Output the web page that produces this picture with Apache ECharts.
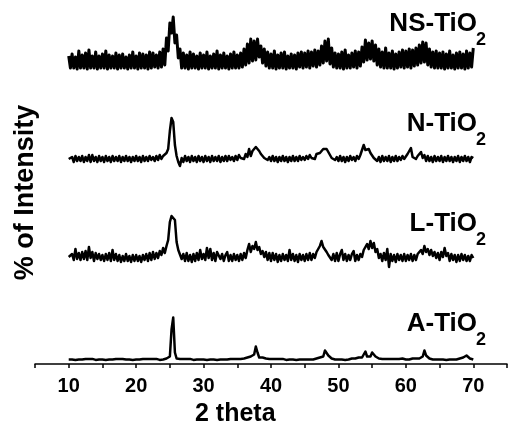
<!DOCTYPE html>
<html lang="en">
<head>
  <meta charset="UTF-8">
  <title>XRD</title>
  <script src="https://cdn.jsdelivr.net/npm/echarts@6/dist/echarts.min.js"></script>
  <style>
    body { margin: 0; background: #fff; }
    #app { width: 510px; height: 424px; }
  </style>
</head>
<body>
  <div id="app"></div>
  <script>
    // 2 theta grid: 10 -> 70, step 0.25
    var thetaStart = 10
    var thetaStep = 0.25

    // intensities above each trace's baseline
    var aTiO2 = [
      0,0.6,0,0.6,-0.4,0.6,0,0.6,0,0,0.6,-0.4,0.6,0,0.6,0,-0.4,0.6,0,0.6,
      0,0.6,-0.4,0.6,0,0.6,0,-0.4,0.6,0,0.6,0,0.6,-0.4,0,0.6,0,0.6,-0.4,0.6,
      0,0.6,0,-0.4,0.6,0,0.6,0,0.6,-0.4,0.6,0,0.6,0,-0.4,0.6,0,0.6,1,2,
      3,30,42,7,1,0,0.6,0,0.6,-0.4,0.6,0,0.6,0,-0.4,0.6,0,0.6,0,0.6,
      0,0.6,-0.4,0.6,0,0.6,0,0.6,-0.4,0.6,0,0.6,0,0.6,0,-0.4,0.6,0,0.6,0,
      0.6,0,0.6,0,1,1,2,2,3,2,5,13,7,2,3,2,1,1,0,0.6,
      0,0.6,-0.4,0.6,0,0.6,0,0.6,0,-0.4,0.6,0,0.6,0,0.6,-0.4,0.6,0,0.6,0,
      0.6,0,0.6,0,0.6,0,1,1,1,2,2,3,9,10,4,2,1,1,0,0.6,
      0,0.6,0,0.6,-0.4,0.6,0,0.6,1,0,1,1,2,1,2,4,8,3,2,3,
      7,8,3,1,1,0,0.6,0,0.6,-0.4,0.6,0,0.6,0,0.6,0,0.6,0,1,1,
      0,0.6,0,1,1,0,1,1,1,2,3,9,4,2,1,1,0,0.6,0,0.6,
      0,0.6,0,0.6,-0.4,0.6,0,0.6,0,0.6,0,1,1,1,2,3,4,3,1,1,
      0
    ]
    var lTiO2 = [
      1,-1,4,-2,9,-1,5,-2,6,-1,7,-2,11,0,6,-3,5,-1,4,-2,
      3,-3,4,-2,5,-3,8,-2,4,-3,3,-4,2,-3,4,-3,2,-4,3,-3,
      3,-3,2,-4,3,-2,4,-3,5,-2,6,-1,5,0,7,3,10,5,12,18,
      36,42,40,38,16,8,6,-1,4,-3,5,-3,3,-4,4,-3,5,-2,8,-1,
      4,-2,10,0,9,-2,5,-3,6,8,-1,4,-3,3,6,-3,3,-3,4,-2,
      3,-3,4,-2,5,0,8,14,6,12,9,16,8,11,4,7,1,6,-2,5,
      -3,5,-2,4,-4,3,-3,4,-2,3,-3,8,-2,4,-3,3,-4,4,-2,3,
      -3,4,-2,5,-2,4,0,6,4,12,17,11,9,6,3,5,-2,4,-3,5,
      -3,4,8,-2,4,-3,3,-2,4,7,-3,3,-2,4,1,8,6,14,9,17,
      10,15,6,9,0,4,-3,5,-2,9,-9,4,-3,3,-4,4,-2,3,-3,4,
      -3,3,-2,4,-3,3,-2,4,2,8,4,12,6,9,3,8,2,6,0,5,
      -2,6,1,10,2,5,-3,4,-2,3,-4,3,-3,4,-2,3,-3,2,-3,3,
      0
    ]
    var nTiO2 = [
      0,-2,2,-3,3,-2,2,-2,3,-3,2,-2,4,-3,4,-2,2,-3,3,-2,
      2,-3,3,-2,2,-3,3,-2,2,-2,3,-3,2,-2,3,-2,2,-3,2,-2,
      3,-2,2,-3,3,-2,2,-2,3,-1,2,-2,3,-1,4,0,3,1,6,10,
      28,41,37,14,3,-3,-7,1,-3,3,-2,2,-3,3,-2,2,-3,3,-2,2,
      -3,3,-2,2,-3,3,-2,2,-2,3,-3,2,-2,3,-2,3,-1,2,-2,3,
      -1,4,1,3,0,5,2,10,3,8,10,12,11,8,5,4,1,3,-1,2,
      -2,3,-2,2,-3,2,-2,3,-2,2,-3,2,-2,3,-2,2,-2,3,-1,2,
      -1,3,0,4,1,3,0,5,3,6,8,10,12,10,7,4,1,3,-1,2,
      -2,3,-2,2,-3,2,-2,3,-1,2,-2,3,0,4,6,14,9,8,10,6,
      4,1,3,-2,2,-3,3,-2,2,-2,3,-3,2,-2,3,-2,2,-1,3,0,
      2,5,3,11,2,4,0,3,2,7,1,4,-2,3,-2,2,-3,3,-2,2,
      -2,3,-3,2,-2,3,-2,2,-3,2,-2,3,-3,2,-2,3,-2,2,-3,2,
      1
    ]
    var nsTiO2 = [
      7,-5,9,-5,6,-6,12,-5,8,-5,10,-6,13,-5,7,-5,11,-6,7,-5,
      9,-5,12,-6,8,-5,7,-5,10,-6,8,-5,9,-5,6,-6,8,-5,11,-5,
      7,-6,10,-5,9,-5,8,-6,11,-5,10,-4,8,-5,11,-4,14,-2,25,12,
      40,30,46,20,28,5,14,-5,10,-5,8,-6,11,-5,9,-5,7,-6,10,-5,
      8,-5,11,-6,7,-5,9,-5,12,-6,8,-5,10,-5,7,-6,9,-5,11,-5,
      8,-5,10,-4,14,-2,19,0,24,2,22,3,24,6,17,0,14,-3,11,-5,
      9,-5,12,-6,8,-5,10,-5,11,-6,7,-5,9,-5,8,-6,10,-4,11,-5,
      10,-4,12,-5,11,-3,13,-4,12,-2,17,0,22,2,24,-1,15,-4,10,-5,
      9,-5,11,-6,13,-5,8,-5,10,-4,12,-5,11,-3,16,1,23,3,20,4,
      22,2,18,-2,14,-4,11,-5,15,-5,10,-5,12,-6,9,-5,11,-4,13,-5,
      12,-4,14,-5,13,-3,15,-2,18,0,21,1,20,-2,14,-4,11,-5,12,-5,
      10,-5,11,-6,9,-5,12,-5,8,-6,10,-5,11,-5,9,-6,12,-5,10,-4,
      15
    ]

    var sampleNames = ['A-TiO', 'L-TiO', 'N-TiO', 'NS-TiO']
    var sampleData = [aTiO2, lTiO2, nTiO2, nsTiO2]
    var offsets = [4.5, 106, 205, 301]   // vertical stacking of the traces
    var lineWidths = [2.5, 2.5, 2.5, 3]
    var labelY = [324, 224, 124, 24]     // label positions (main text middle)

    var mCharts = echarts.init(document.getElementById('app'))

    var series = sampleData.map(function (vals, k) {
      return {
        type: 'line',
        showSymbol: false,
        silent: true,
        lineStyle: { color: '#000', width: lineWidths[k], join: 'round' },
        data: vals.map(function (v, i) {
          return [thetaStart + i * thetaStep, v + offsets[k]]
        })
      }
    })

    var font = 'Liberation Sans, Arial, sans-serif'
    var graphics = []
    sampleNames.forEach(function (name, k) {
      graphics.push({
        type: 'text', x: 477, y: labelY[k],
        style: { text: name, font: 'bold 26px ' + font, fill: '#000', textAlign: 'right', textVerticalAlign: 'middle' }
      })
      graphics.push({
        type: 'text', x: 476, y: labelY[k] + 16,
        style: { text: '2', font: 'bold 18px ' + font, fill: '#000', textAlign: 'left', textVerticalAlign: 'middle' }
      })
    })
    graphics.push({
      type: 'text', x: 195, y: 414.5,
      style: { text: '2 theta', font: 'bold 25px ' + font, fill: '#000', textAlign: 'left', textVerticalAlign: 'middle' }
    })
    graphics.push({
      type: 'text', x: 25.7, y: 192.5, rotation: Math.PI / 2,
      style: { text: '% of Intensity', font: 'bold 27px ' + font, fill: '#000', textAlign: 'center', textVerticalAlign: 'middle' }
    })

    var option = {
      animation: false,
      grid: { left: 35, right: -4, top: 0, bottom: 60 },
      xAxis: {
        type: 'value',
        min: 5,
        max: 75,
        interval: 5,
        splitLine: { show: false },
        axisLine: { lineStyle: { color: '#000', width: 1.5 } },
        axisTick: { length: 4, lineStyle: { color: '#000', width: 1.5 } },
        axisLabel: {
          color: '#000',
          fontFamily: font,
          fontWeight: 'bold',
          fontSize: 20,
          margin: 12,
          formatter: function (v) { return v % 10 === 0 && v <= 70 ? v : '' }
        }
      },
      yAxis: { type: 'value', min: 0, max: 364, show: false },
      graphic: graphics,
      series: series
    }
    mCharts.setOption(option)
  </script>
</body>
</html>
